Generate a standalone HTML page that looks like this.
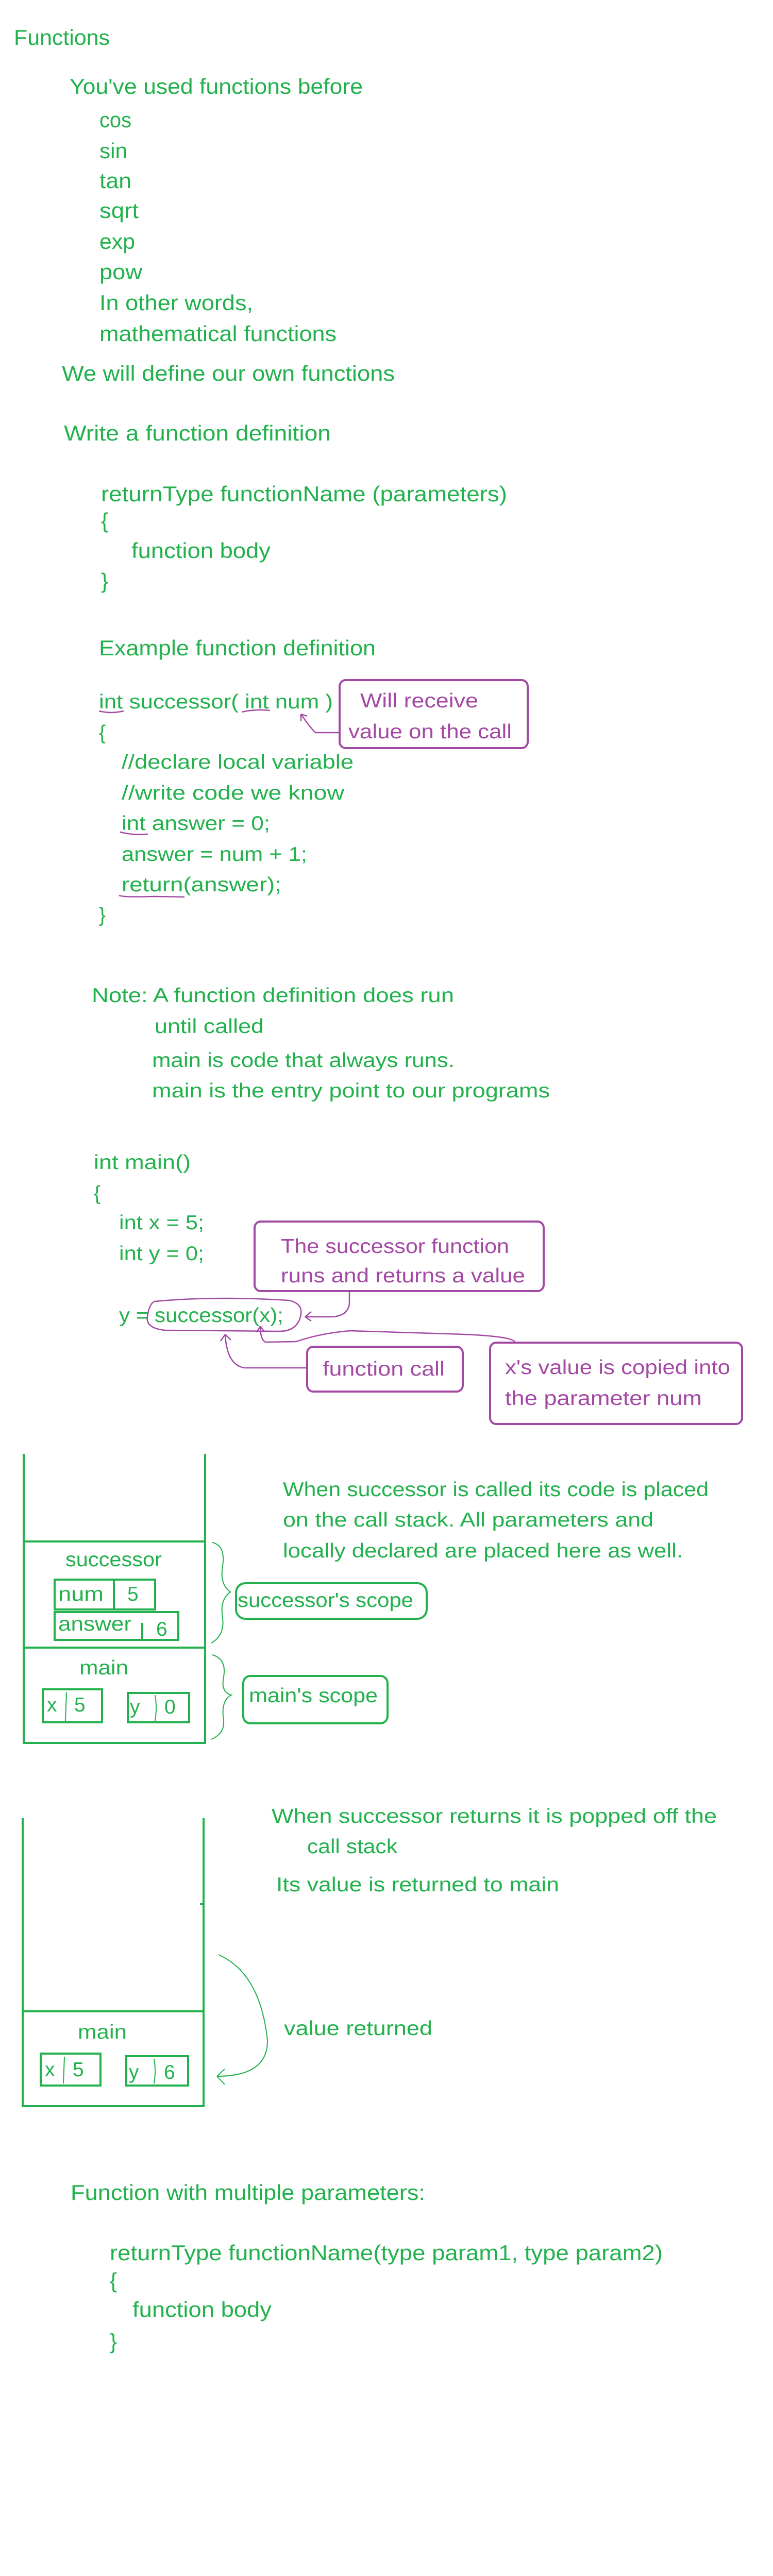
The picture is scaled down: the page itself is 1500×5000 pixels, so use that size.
<!DOCTYPE html>
<html><head><meta charset="utf-8">
<style>
html,body{margin:0;padding:0;background:#fff;}
svg{display:block;}
text{font-family:"Liberation Sans",sans-serif;}
.g{fill:#22b14c;}
.p{fill:#a349a4;}
.c{font-size:42px;}
.s{font-size:39px;}
</style></head>
<body>
<svg width="1500" height="5000" viewBox="0 0 1500 5000" xmlns="http://www.w3.org/2000/svg">
<rect width="1500" height="5000" fill="#fff"/>
<g class="g c" lengthAdjust="spacingAndGlyphs">
<text class="g c" x="27" y="87" textLength="186" lengthAdjust="spacingAndGlyphs">Functions</text>
<text class="g c" x="135" y="182" textLength="569" lengthAdjust="spacingAndGlyphs">You've used functions before</text>
<text class="g c" x="193" y="247" textLength="62" lengthAdjust="spacingAndGlyphs">cos</text>
<text class="g c" x="193" y="307" textLength="54" lengthAdjust="spacingAndGlyphs">sin</text>
<text class="g c" x="193" y="365" textLength="62" lengthAdjust="spacingAndGlyphs">tan</text>
<text class="g c" x="193" y="423" textLength="76" lengthAdjust="spacingAndGlyphs">sqrt</text>
<text class="g c" x="193" y="483" textLength="69" lengthAdjust="spacingAndGlyphs">exp</text>
<text class="g c" x="193" y="542" textLength="83" lengthAdjust="spacingAndGlyphs">pow</text>
<text class="g c" x="193" y="602" textLength="298" lengthAdjust="spacingAndGlyphs">In other words,</text>
<text class="g c" x="193" y="662" textLength="460" lengthAdjust="spacingAndGlyphs">mathematical functions</text>
<text class="g c" x="120" y="739" textLength="646" lengthAdjust="spacingAndGlyphs">We will define our own functions</text>
<text class="g c" x="124" y="855" textLength="518" lengthAdjust="spacingAndGlyphs">Write a function definition</text>
<text class="g c" x="196" y="973" textLength="788" lengthAdjust="spacingAndGlyphs">returnType functionName  (parameters)</text>
<text class="g c" x="196" y="1025">{</text>
<text class="g c" x="255" y="1083" textLength="270" lengthAdjust="spacingAndGlyphs">function body</text>
<text class="g c" x="196" y="1142">}</text>
<text class="g c" x="192" y="1272" textLength="537" lengthAdjust="spacingAndGlyphs">Example function definition</text>
</g>

<!-- example definition -->
<text class="g s" x="192" y="1375" textLength="454" lengthAdjust="spacingAndGlyphs">int successor( int num )</text>
<path d="M192 1380 Q215 1386 240 1380 M469 1382 Q495 1376 524 1379" stroke="#a349a4" stroke-width="2.5" fill="none"/>
<rect x="659" y="1320" width="365" height="132" rx="12" fill="none" stroke="#a349a4" stroke-width="4"/>
<text class="p s" x="699" y="1373" textLength="229" lengthAdjust="spacingAndGlyphs">Will receive</text>
<text class="p s" x="676" y="1433" textLength="317" lengthAdjust="spacingAndGlyphs">value on the call</text>
<path d="M659 1422 L612 1422 Q600 1410 584 1386 M584 1386 L584 1400 M584 1386 L596 1390" stroke="#a349a4" stroke-width="2.5" fill="none"/>
<text class="g s" x="192" y="1435">{</text>
<text class="g s" x="236" y="1492" textLength="450" lengthAdjust="spacingAndGlyphs">//declare local variable</text>
<text class="g s" x="236" y="1552" textLength="432" lengthAdjust="spacingAndGlyphs">//write code we know</text>
<text class="g s" x="236" y="1611" textLength="288" lengthAdjust="spacingAndGlyphs">int answer = 0;</text>
<path d="M233 1615 Q260 1622 287 1619" stroke="#a349a4" stroke-width="2.5" fill="none"/>
<text class="g s" x="236" y="1671" textLength="360" lengthAdjust="spacingAndGlyphs">answer = num + 1;</text>
<text class="g s" x="236" y="1730" textLength="310" lengthAdjust="spacingAndGlyphs">return(answer);</text>
<path d="M231 1738 Q240 1742 300 1740 L358 1741" stroke="#a349a4" stroke-width="2.5" fill="none"/>
<text class="g s" x="192" y="1789">}</text>

<text class="g s" x="178" y="1945" textLength="703" lengthAdjust="spacingAndGlyphs">Note: A function definition does run</text>
<text class="g s" x="300" y="2005" textLength="212" lengthAdjust="spacingAndGlyphs">until called</text>
<text class="g s" x="295" y="2071" textLength="587" lengthAdjust="spacingAndGlyphs">main is code that always runs.</text>
<text class="g s" x="295" y="2130" textLength="772" lengthAdjust="spacingAndGlyphs">main is the entry point to our programs</text>

<text class="g s" x="182" y="2269" textLength="188" lengthAdjust="spacingAndGlyphs">int main()</text>
<text class="g s" x="182" y="2329">{</text>
<text class="g s" x="231" y="2386" textLength="165" lengthAdjust="spacingAndGlyphs">int x = 5;</text>
<text class="g s" x="231" y="2446" textLength="165" lengthAdjust="spacingAndGlyphs">int y = 0;</text>
<text class="g s" x="231" y="2566" textLength="319" lengthAdjust="spacingAndGlyphs">y = successor(x);</text>
<path d="M300 2526 Q420 2515 560 2524 Q590 2530 583 2556 Q575 2585 540 2584 L320 2582 Q282 2578 286 2555 Q290 2530 300 2526" stroke="#a349a4" stroke-width="2.5" fill="none"/>
<rect x="494" y="2371" width="561" height="135" rx="12" fill="none" stroke="#a349a4" stroke-width="4"/>
<text class="p s" x="545" y="2432" textLength="443" lengthAdjust="spacingAndGlyphs">The successor function</text>
<text class="p s" x="545" y="2489" textLength="474" lengthAdjust="spacingAndGlyphs">runs and returns a value</text>
<path d="M678 2506 L678 2530 Q675 2556 640 2556 L592 2556 M592 2556 L604 2546 M592 2556 L604 2564" stroke="#a349a4" stroke-width="2.5" fill="none"/>
<rect x="596" y="2614" width="302" height="87" rx="12" fill="none" stroke="#a349a4" stroke-width="4"/>
<text class="p s" x="626" y="2670" textLength="237" lengthAdjust="spacingAndGlyphs">function call</text>
<path d="M596 2655 L475 2655 Q440 2650 437 2590 M437 2590 L428 2603 M437 2590 L448 2601" stroke="#a349a4" stroke-width="2.5" fill="none"/>
<rect x="951" y="2606" width="489" height="158" rx="12" fill="none" stroke="#a349a4" stroke-width="4"/>
<text class="p s" x="980" y="2667" textLength="437" lengthAdjust="spacingAndGlyphs">x's value is copied into</text>
<text class="p s" x="980" y="2727" textLength="382" lengthAdjust="spacingAndGlyphs">the parameter num</text>
<path d="M1000 2606 Q998 2594 900 2590 L680 2583 Q620 2588 575 2604 L515 2605 Q505 2600 505 2574 M505 2574 L498 2586 M505 2574 L513 2585" stroke="#a349a4" stroke-width="2.5" fill="none"/>

<!-- stack 1 -->
<g stroke="#22b14c" stroke-width="4" fill="none">
<path d="M46 2822 L46 3383 L398 3383 L398 2822 M46 2992 L398 2992 M46 3198 L398 3198"/>
<rect x="106" y="3066" width="195" height="58"/>
<line x1="221" y1="3066" x2="221" y2="3124"/>
<rect x="106" y="3129" width="240" height="54"/>
<line x1="276" y1="3150" x2="276" y2="3183"/>
<rect x="83" y="3279" width="115" height="64"/>
<rect x="248" y="3286" width="119" height="57"/>
</g>
<g stroke="#22b14c" stroke-width="2" fill="none">
<path d="M129 3285 L127 3340 M301 3290 Q305 3315 301 3340"/>
<path d="M412 2994 Q438 3000 432 3040 Q426 3075 447 3090 Q426 3105 432 3140 Q436 3175 410 3189"/>
<path d="M412 3212 Q440 3220 434 3255 Q428 3285 449 3290 Q428 3300 434 3340 Q436 3365 410 3376"/>
</g>
<text class="g s" x="127" y="3040" textLength="187" lengthAdjust="spacingAndGlyphs">successor</text>
<text class="g s" x="113" y="3107" textLength="88" lengthAdjust="spacingAndGlyphs">num</text>
<text class="g s" x="247" y="3107">5</text>
<text class="g s" x="113" y="3165" textLength="142" lengthAdjust="spacingAndGlyphs">answer</text>
<text class="g s" x="303" y="3175">6</text>
<text class="g s" x="154" y="3250" textLength="95" lengthAdjust="spacingAndGlyphs">main</text>
<text class="g s" x="91" y="3322">x</text>
<text class="g s" x="144" y="3322">5</text>
<text class="g s" x="252" y="3326">y</text>
<text class="g s" x="319" y="3326">0</text>
<rect x="458" y="3073" width="370" height="69" rx="18" fill="none" stroke="#22b14c" stroke-width="4"/>
<text class="g s" x="461" y="3119" textLength="341" lengthAdjust="spacingAndGlyphs">successor's scope</text>
<rect x="472" y="3253" width="280" height="92" rx="14" fill="none" stroke="#22b14c" stroke-width="4"/>
<text class="g s" x="483" y="3304" textLength="250" lengthAdjust="spacingAndGlyphs">main's scope</text>
<text class="g s" x="549" y="2904" textLength="826" lengthAdjust="spacingAndGlyphs">When successor is called its code is placed</text>
<text class="g s" x="549" y="2963" textLength="719" lengthAdjust="spacingAndGlyphs">on the call stack.  All parameters and</text>
<text class="g s" x="549" y="3023" textLength="776" lengthAdjust="spacingAndGlyphs">locally declared are placed here as well.</text>

<!-- stack 2 -->
<g stroke="#22b14c" stroke-width="4" fill="none">
<path d="M44 3529 L44 4088 L395 4088 L395 3529 M44 3904 L395 3904 M388 3696 L395 3696"/>
<rect x="79" y="3986" width="116" height="62"/>
<rect x="245" y="3991" width="120" height="57"/>
</g>
<g stroke="#22b14c" stroke-width="2" fill="none">
<path d="M125 3992 L123 4044 M299 3996 Q303 4020 299 4044"/>
<path d="M424 3794 Q505 3830 519 3960 Q520 4030 421 4030 M421 4030 L436 4016 M421 4030 L436 4046"/>
</g>
<text class="g s" x="151" y="3957" textLength="95" lengthAdjust="spacingAndGlyphs">main</text>
<text class="g s" x="87" y="4030">x</text>
<text class="g s" x="141" y="4030">5</text>
<text class="g s" x="250" y="4035">y</text>
<text class="g s" x="318" y="4035">6</text>
<text class="g s" x="551" y="3950" textLength="288" lengthAdjust="spacingAndGlyphs">value returned</text>
<text class="g s" x="527" y="3538" textLength="864" lengthAdjust="spacingAndGlyphs">When successor returns  it is popped off the</text>
<text class="g s" x="596" y="3597" textLength="175" lengthAdjust="spacingAndGlyphs">call stack</text>
<text class="g s" x="536" y="3671" textLength="549" lengthAdjust="spacingAndGlyphs">Its value is returned to main</text>

<text class="g c" x="137" y="4270" textLength="688" lengthAdjust="spacingAndGlyphs">Function with multiple parameters:</text>
<text class="g c" x="213" y="4387" textLength="1073" lengthAdjust="spacingAndGlyphs">returnType   functionName(type param1, type param2)</text>
<text class="g c" x="213" y="4441">{</text>
<text class="g c" x="257" y="4497" textLength="270" lengthAdjust="spacingAndGlyphs">function body</text>
<text class="g c" x="213" y="4559">}</text>
</svg>
</body></html>
